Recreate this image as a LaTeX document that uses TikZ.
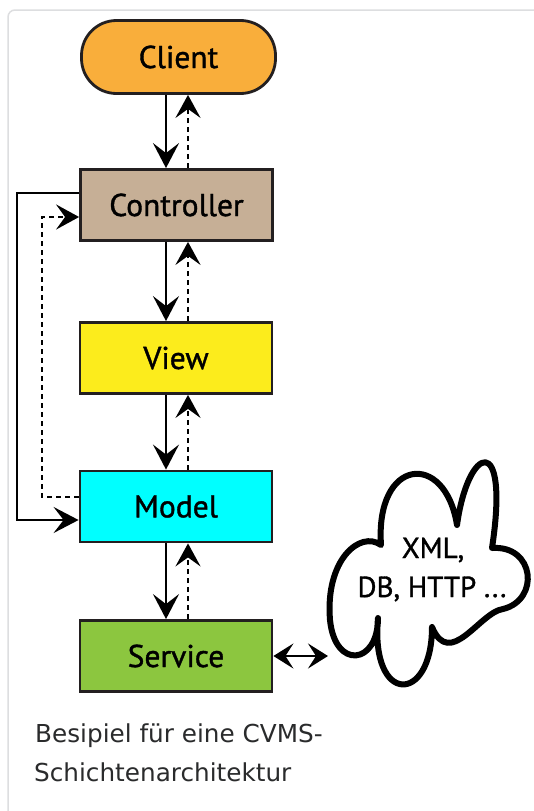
\documentclass[tikz,border=0pt]{standalone}
\usepackage{fontspec}
\setmainfont{DejaVu Sans}
\newfontfamily\boxfont[FakeBold=1.2]{PT Sans}
\usetikzlibrary{arrows.meta,calc}
\definecolor{clientc}{HTML}{F9AE3B}
\definecolor{ctrlc}{HTML}{C6AF96}
\definecolor{viewc}{HTML}{FCEC1C}
\definecolor{modelc}{HTML}{00FFFF}
\definecolor{servc}{HTML}{8CC63F}
\definecolor{bordc}{HTML}{231F20}
\definecolor{framec}{HTML}{DDDEE0}
\definecolor{captc}{HTML}{2A2B2C}
\begin{document}
\begin{tikzpicture}[x=1pt,y=-1pt,
  boxA/.style={draw=bordc, line width=2.8pt, minimum width=192pt, minimum height=71pt,
    inner sep=0pt, font=\boxfont\fontsize{31.5}{36}\selectfont},
  conn/.style={line width=2.3pt, -{Stealth[length=25pt,width=26pt,inset=10pt]}},
  dconn/.style={line width=2.3pt, dash pattern=on 5pt off 4pt, -{Stealth[length=23pt,width=25pt,inset=9pt]}},
  dbl/.style={line width=2.3pt, {Stealth[length=20pt,width=25pt,inset=8pt]}-{Stealth[length=20pt,width=25pt,inset=8pt]}},
  cloudtext/.style={font=\boxfont\fontsize{29}{34}\selectfont, inner sep=0pt, anchor=base},
  captext/.style={font=\fontsize{24.7}{39}\selectfont, text=captc, inner sep=0pt, anchor=base west}]
\useasboundingbox (0,0) rectangle (534,811);
\fill[white] (0,0) rectangle (534,811);
\draw[framec, line width=1.5pt, rounded corners=7pt] (534,10) -- (8,10) -- (8,811);

\node[boxA, fill=clientc, rounded corners=35pt, minimum width=194pt, minimum height=73pt] (client) at (178.5,57) {Client};
\node[boxA, fill=ctrlc] (ctrl) at (176.5,205) {Controller};
\node[boxA, fill=viewc] (view) at (176,358) {View};
\node[boxA, fill=modelc] (model) at (176,506.5) {Model};
\node[boxA, fill=servc] (serv) at (176,656) {Service};

\coordinate (sx) at (166,0);
\coordinate (dx) at (188,0);

\draw[conn] (client.south -| sx) -- (ctrl.north -| sx);
\draw[dconn] (ctrl.north -| dx) -- (client.south -| dx);
\draw[conn] (ctrl.south -| sx) -- (view.north -| sx);
\draw[dconn] (view.north -| dx) -- (ctrl.south -| dx);
\draw[conn] (view.south -| sx) -- (model.north -| sx);
\draw[dconn] (model.north -| dx) -- (view.south -| dx);
\draw[conn] (model.south -| sx) -- (serv.north -| sx);
\draw[dconn] (serv.north -| dx) -- (model.south -| dx);

\coordinate (c1) at ([yshift=12pt]ctrl.west);
\coordinate (m1) at ([yshift=-13.5pt]model.west);
\coordinate (lx) at (17,0);
\draw[conn] (c1) -| (lx |- m1) -- (m1);

\coordinate (m2) at ([yshift=9.5pt]model.west);
\coordinate (c2) at ([yshift=-12pt]ctrl.west);
\coordinate (lx2) at (42,0);
\draw[dconn] (m2) -| (lx2 |- c2) -- (c2);

\draw[line width=6pt, line join=round, line cap=round]
  (381,545) .. controls (375,458) and (445,450) .. (457,525)
  .. controls (468,445) and (510,430) .. (492,548)
  .. controls (535,545) and (540,600) .. (503,609)
  .. controls (480,612) and (450,670) .. (432,627)
  .. controls (432,705) and (370,705) .. (378,618)
  .. controls (378,665) and (335,670) .. (330,620)
  .. controls (325,560) and (360,530) .. (381,545) -- cycle;

\coordinate (cl) at (328,656);
\draw[dbl] (serv.east) -- (cl);

\node[cloudtext] (xml) at (433,558) {XML,};
\node[cloudtext] (db) at (432,597) {DB, HTTP ...};

\node[captext] (cap1) at (35,742) {Besipiel für eine CVMS-};
\node[captext] (cap2) at (34,781) {Schichtenarchitektur};
\end{tikzpicture}
\end{document}
